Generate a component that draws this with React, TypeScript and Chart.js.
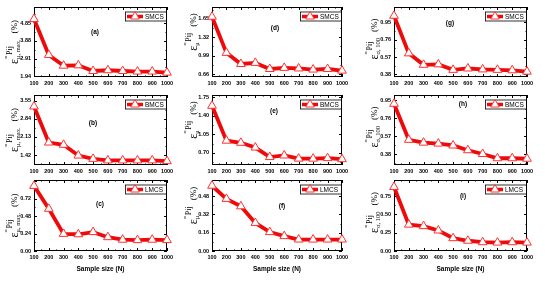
import React, { useEffect, useRef } from 'react';
import { Chart, registerables } from 'chart.js';

Chart.register(...registerables);

// ---------- data ----------
const sampleSizes = [100, 200, 300, 400, 500, 600, 700, 800, 900, 1000];
const xTickLabels = ['100', '200', '300', '400', '500', '600', '700', '800', '900', '1000'];

const smcsMuMax = [5.08, 3.11, 2.52, 2.54, 2.23, 2.27, 2.23, 2.2, 2.2, 2.14];
const bmcsMuMax = [3.32, 1.91, 1.82, 1.4, 1.27, 1.21, 1.21, 1.21, 1.21, 1.18];
const lmcsMuMax = [0.895, 0.58, 0.235, 0.23, 0.26, 0.19, 0.155, 0.15, 0.155, 0.15];

const smcsMu = [1.69, 1.04, 0.84, 0.86, 0.75, 0.77, 0.76, 0.74, 0.75, 0.72];
const bmcsMu = [1.59, 0.93, 0.89, 0.8, 0.62, 0.65, 0.59, 0.59, 0.6, 0.58];
const lmcsMu = [0.57, 0.455, 0.39, 0.245, 0.165, 0.13, 0.1, 0.1, 0.1, 0.1];

const smcsSigma = [1.02, 0.61, 0.485, 0.49, 0.43, 0.445, 0.435, 0.43, 0.425, 0.41];
const bmcsSigma = [0.91, 0.53, 0.5, 0.49, 0.47, 0.42, 0.38, 0.335, 0.335, 0.33];
const lmcsSigma = [0.875, 0.36, 0.34, 0.28, 0.175, 0.14, 0.12, 0.115, 0.12, 0.115];

const yTicksA = [1.94, 2.91, 3.88, 4.85];
const yLabelsA = ['1.94', '2.91', '3.88', '4.85'];
const yTicksB = [1.42, 2.13, 2.84, 3.55];
const yLabelsB = ['1.42', '2.13', '2.84', '3.55'];
const yTicksC = [0, 0.24, 0.48, 0.72];
const yLabelsC = ['0.00', '0.24', '0.48', '0.72'];
const yTicksD = [0.66, 0.99, 1.32, 1.65];
const yLabelsD = ['0.66', '0.99', '1.32', '1.65'];
const yTicksE = [0.7, 1.05, 1.4, 1.75];
const yLabelsE = ['0.70', '1.05', '1.40', '1.75'];
const yTicksF = [0, 0.16, 0.32, 0.48];
const yLabelsF = ['0.00', '0.16', '0.32', '0.48'];
const yTicksG = [0.38, 0.57, 0.76, 0.95];
const yLabelsG = ['0.38', '0.57', '0.76', '0.95'];
const yTicksH = [0.38, 0.57, 0.76, 0.95];
const yLabelsH = ['0.38', '0.57', '0.76', '0.95'];
const yTicksI = [0, 0.25, 0.5, 0.75];
const yLabelsI = ['0.00', '0.25', '0.50', '0.75'];

const yRanges = {
  a: [1.9, 5.74], b: [1.03, 3.77], c: [0, 0.976],
  d: [0.606, 1.865], e: [0.47, 1.794], f: [0, 0.62],
  g: [0.352, 1.116], h: [0.264, 1.003], i: [0, 0.97],
};

// ---------- layout ----------
const cols = [
  { x0: 0, w: 180, left: 34, right: 167, titleX: 17.5, titleDy: 0, sub: 'μ, max.' },
  { x0: 180, w: 180, left: 212, right: 342, titleX: 196.5, titleDy: -10, sub: 'μ' },
  { x0: 360, w: 185, left: 394, right: 527, titleX: 377.5, titleDy: -3, sub: 'σ, 100' },
];
const rows = [
  { y0: 0, h: 88, top: 7, bottom: 77 },
  { y0: 88, h: 85, top: 95, bottom: 165 },
  { y0: 173, h: 110, top: 180, bottom: 251 },
];

const panels = [
  { id: 'a', col: 0, row: 0, name: 'SMCS', values: smcsMuMax, ticks: yTicksA, labels: yLabelsA, lab: [95, 32] },
  { id: 'b', col: 0, row: 1, name: 'BMCS', values: bmcsMuMax, ticks: yTicksB, labels: yLabelsB, lab: [93, 123] },
  { id: 'c', col: 0, row: 2, name: 'LMCS', values: lmcsMuMax, ticks: yTicksC, labels: yLabelsC, lab: [100, 204] },
  { id: 'd', col: 1, row: 0, name: 'SMCS', values: smcsMu, ticks: yTicksD, labels: yLabelsD, lab: [275, 28] },
  { id: 'e', col: 1, row: 1, name: 'BMCS', values: bmcsMu, ticks: yTicksE, labels: yLabelsE, lab: [274, 111] },
  { id: 'f', col: 1, row: 2, name: 'LMCS', values: lmcsMu, ticks: yTicksF, labels: yLabelsF, lab: [282, 206] },
  { id: 'g', col: 2, row: 0, name: 'SMCS', values: smcsSigma, ticks: yTicksG, labels: yLabelsG, lab: [450, 23] },
  { id: 'h', col: 2, row: 1, name: 'BMCS', values: bmcsSigma, ticks: yTicksH, labels: yLabelsH, lab: [463, 104] },
  { id: 'i', col: 2, row: 2, name: 'LMCS', values: lmcsSigma, ticks: yTicksI, labels: yLabelsI, lab: [463, 196] },
];

const RED = '#ee0a0a';
const SANS = '"Liberation Sans", Arial, sans-serif';
const SERIF = '"Liberation Serif", "DejaVu Serif", serif';

function drawTriangle(ctx: CanvasRenderingContext2D, x: number, y: number, r: number) {
  ctx.beginPath();
  ctx.moveTo(x, y - r);
  ctx.lineTo(x + 0.866 * r, y + 0.5 * r);
  ctx.lineTo(x - 0.866 * r, y + 0.5 * r);
  ctx.closePath();
  ctx.fillStyle = '#fff';
  ctx.fill();
  ctx.strokeStyle = '#ff3030';
  ctx.lineWidth = 1;
  ctx.stroke();
}

function drawYTitle(ctx: CanvasRenderingContext2D, xBase: number, yCenter: number, sub: string) {
  ctx.save();
  ctx.fillStyle = '#000';
  ctx.textBaseline = 'alphabetic';
  ctx.textAlign = 'left';
  const fEps = `12px ${SERIF}`;
  const fSup = `8px ${SERIF}`;
  const fSub = `6.5px ${SERIF}`;
  const fPct = `9px ${SERIF}`;
  ctx.font = fEps;
  const wEps = ctx.measureText('ε').width;
  ctx.font = fSup;
  const wP = ctx.measureText('Pij').width;
  ctx.font = fSub;
  const wSub = ctx.measureText(sub).width;
  ctx.font = fPct;
  const wPct = ctx.measureText('(%)').width;
  const wBar = 3;
  const wIdx = Math.max(wBar + 1 + wP, wSub);
  const gap = 6;
  const total = wEps + wIdx + gap + wPct;
  ctx.translate(xBase, yCenter + total / 2);
  ctx.rotate(-Math.PI / 2);
  ctx.font = fEps;
  ctx.fillText('ε', 0, 0);
  ctx.strokeStyle = '#000';
  ctx.lineWidth = 0.8;
  ctx.beginPath();
  ctx.moveTo(wEps + 0.3, -11.5);
  ctx.lineTo(wEps + wBar, -11.5);
  ctx.stroke();
  ctx.font = fSup;
  ctx.fillText('Pij', wEps + wBar + 1, -6);
  ctx.font = fSub;
  ctx.fillText(sub, wEps, 2.5);
  ctx.font = fPct;
  ctx.fillText('(%)', wEps + wIdx + gap, -1);
  ctx.restore();
}

function makeDecor(p: any, col: any, row: any) {
  return {
    id: 'decor_' + p.id,
    beforeDatasetsDraw(chart: any) {
      const ctx: CanvasRenderingContext2D = chart.ctx;
      const { left, right, top, bottom } = chart.chartArea;
      const xs = chart.scales.x;
      const ys = chart.scales.y;
      ctx.save();
      ctx.strokeStyle = '#000';
      ctx.lineWidth = 1;
      ctx.strokeRect(left + 0.5, top + 0.5, right - left - 1, bottom - top - 1);
      ctx.beginPath();
      for (let v = 100; v <= 1000; v += 50) {
        const px = Math.round(xs.getPixelForValue(v)) + 0.5;
        const len = v % 100 === 0 ? 3 : 1.5;
        ctx.moveTo(px, bottom);
        ctx.lineTo(px, bottom - len);
        ctx.moveTo(px, top);
        ctx.lineTo(px, top + len);
      }
      const t = p.ticks;
      const step = t[1] - t[0];
      for (let k = -4; k <= 12; k++) {
        const v = t[0] + (k * step) / 2;
        if (v < ys.min - 1e-9 || v > ys.max + 1e-9) continue;
        const len = k % 2 === 0 ? 3 : 1.5;
        const py = Math.round(ys.getPixelForValue(v)) + 0.5;
        ctx.moveTo(left, py);
        ctx.lineTo(left + len, py);
        ctx.moveTo(right, py);
        ctx.lineTo(right - len, py);
      }
      ctx.stroke();
      ctx.restore();
    },
    afterDatasetsDraw(chart: any) {
      const ctx: CanvasRenderingContext2D = chart.ctx;
      const { left, right, top, bottom } = chart.chartArea;
      ctx.save();
      // legend
      const lw = 41;
      const lh = 9;
      const lx = right - 1 - lw;
      const ly = top + 4.5;
      ctx.fillStyle = '#fff';
      ctx.fillRect(lx, ly, lw, lh);
      ctx.strokeStyle = '#000';
      ctx.lineWidth = 0.8;
      ctx.strokeRect(lx + 0.5, ly + 0.5, lw, lh);
      ctx.strokeStyle = RED;
      ctx.lineWidth = 3.5;
      ctx.beginPath();
      ctx.moveTo(lx + 2, ly + lh / 2 + 0.5);
      ctx.lineTo(lx + 18, ly + lh / 2 + 0.5);
      ctx.stroke();
      drawTriangle(ctx, lx + 10, ly + lh / 2 + 0.5, 5);
      ctx.fillStyle = '#000';
      ctx.font = `6.5px ${SANS}`;
      ctx.textAlign = 'left';
      ctx.textBaseline = 'middle';
      ctx.fillText(p.name, lx + 20, ly + lh / 2 + 1);
      // panel label
      ctx.font = `bold 6.5px ${SANS}`;
      ctx.textAlign = 'center';
      ctx.fillText('(' + p.id + ')', p.lab[0] - col.x0, p.lab[1] - row.y0);
      // y title
      drawYTitle(ctx, col.titleX - col.x0, (top + bottom) / 2 + col.titleDy, col.sub);
      // x title (bottom row)
      if (p.row === 2) {
        ctx.fillStyle = '#000';
        ctx.font = `bold 6.5px ${SANS}`;
        ctx.textAlign = 'center';
        ctx.textBaseline = 'middle';
        ctx.fillText('Sample size (N)', (left + right) / 2, 269 - row.y0);
      }
      ctx.restore();
    },
  };
}

function Panel({ p }: { p: any }) {
  const ref = useRef<HTMLCanvasElement>(null);
  const col = cols[p.col];
  const row = rows[p.row];
  useEffect(() => {
    const canvas = ref.current;
    if (!canvas) return;
    const [ymin, ymax] = (yRanges as any)[p.id];
    const yAxisWidth = col.left - col.x0;
    const xAxisHeight = row.y0 + row.h - row.bottom;
    const chart = new Chart(canvas, {
      type: 'line',
      data: {
        datasets: [
          {
            label: p.name,
            data: sampleSizes.map((x, i) => ({ x, y: p.values[i] })),
            borderColor: RED,
            borderWidth: 3.8,
            pointStyle: 'triangle',
            pointRadius: 5,
            pointBorderWidth: 1,
            pointBackgroundColor: '#fff',
            pointBorderColor: '#ff3030',
            tension: 0,
            fill: false,
            clip: 8,
          } as any,
        ],
      },
      options: {
        animation: false,
        responsive: false,
        maintainAspectRatio: false,
        devicePixelRatio: 1,
        layout: {
          padding: { left: 0, top: row.top - row.y0, right: col.x0 + col.w - col.right, bottom: 0 },
        },
        plugins: { legend: { display: false }, tooltip: { enabled: false }, title: { display: false } },
        scales: {
          x: {
            type: 'linear',
            min: 100,
            max: 1000,
            afterBuildTicks: (s: any) => {
              s.ticks = sampleSizes.map((v) => ({ value: v }));
            },
            afterFit: (s: any) => {
              s.height = xAxisHeight;
            },
            ticks: {
              autoSkip: false,
              maxRotation: 0,
              minRotation: 0,
              padding: 3.5,
              color: '#000',
              font: { family: SANS, size: 5.5, weight: 'bold' },
              callback: (_v: any, i: number) => xTickLabels[i],
            },
            grid: { display: false, drawTicks: false },
            border: { display: false },
          },
          y: {
            type: 'linear',
            min: ymin,
            max: ymax,
            afterBuildTicks: (s: any) => {
              s.ticks = p.ticks.map((v: number) => ({ value: v }));
            },
            afterFit: (s: any) => {
              s.width = yAxisWidth;
            },
            ticks: {
              autoSkip: false,
              padding: 3,
              color: '#000',
              font: { family: SANS, size: 5.5, weight: 'bold' },
              callback: (_v: any, i: number) => p.labels[i],
            },
            grid: { display: false, drawTicks: false },
            border: { display: false },
          },
        },
      } as any,
      plugins: [makeDecor(p, col, row)],
    });
    return () => chart.destroy();
  }, []);
  return (
    <canvas
      ref={ref}
      width={col.w}
      height={row.h}
      style={{ position: 'absolute', left: col.x0, top: row.y0, width: col.w, height: row.h }}
    />
  );
}

export default function App() {
  return (
    <div
      style={{
        position: 'fixed',
        left: 0,
        top: 0,
        width: 545,
        height: 283,
        background: '#fff',
        overflow: 'hidden',
      }}
    >
      {panels.map((p) => (
        <Panel key={p.id} p={p} />
      ))}
    </div>
  );
}
